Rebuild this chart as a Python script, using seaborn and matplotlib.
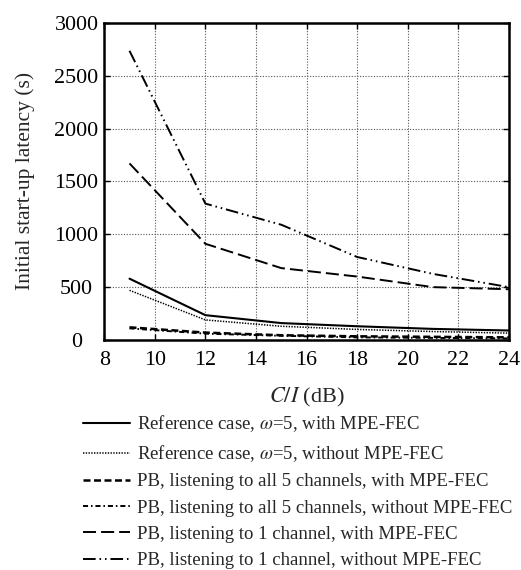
import matplotlib
matplotlib.use("Agg")
import matplotlib.pyplot as plt
import seaborn as sns
import pandas as pd

ci_db = [9, 12, 15, 18, 21, 24]
ref_fec = [580, 235, 160, 130, 105, 90]
ref_nofec = [470, 190, 130, 100, 80, 65]
pb5_fec = [120, 70, 45, 35, 30, 25]
pb5_nofec = [110, 60, 40, 25, 20, 15]
pb1_fec = [1670, 910, 680, 600, 500, 480]
pb1_nofec = [2735, 1290, 1090, 785, 625, 500]

labels = [
    r"Reference case, $\omega$=5, with MPE-FEC",
    r"Reference case, $\omega$=5, without MPE-FEC",
    "PB, listening to all 5 channels, with MPE-FEC",
    "PB, listening to all 5 channels, without MPE-FEC",
    "PB, listening to 1 channel, with MPE-FEC",
    "PB, listening to 1 channel, without MPE-FEC",
]
series = [ref_fec, ref_nofec, pb5_fec, pb5_nofec, pb1_fec, pb1_nofec]

rows = []
for lab, vals in zip(labels, series):
    for x, v in zip(ci_db, vals):
        rows.append({"C/I": x, "latency": v, "series": lab})
df = pd.DataFrame(rows)

sns.set_style("ticks")
plt.rcParams["font.family"] = ["Liberation Serif", "DejaVu Serif"]
plt.rcParams["mathtext.fontset"] = "stix"

fig = plt.figure(figsize=(5.21, 5.70), dpi=100)
ax = fig.add_axes([0.2, 0.4035, 0.777, 0.5565])

styles = [
    (None, 1.5),
    ((0.9, 0.9), 1.1),
    ((2.8, 1.4), 1.8),
    ((2.6, 1.5, 0.8, 1.5), 1.4),
    ((6.7, 2.6), 1.4),
    ((6.5, 2, 0.8, 2, 0.8, 2), 1.4),
]
for lab, (dash, lw) in zip(labels, styles):
    sub = df[df["series"] == lab]
    sns.lineplot(data=sub, x="C/I", y="latency", ax=ax, color="black",
                 linewidth=lw, label=lab, legend=False)
    l = ax.lines[-1]
    if dash is not None:
        l.set_dashes(dash)

ax.set_xlim(8, 24)
ax.set_ylim(0, 3000)
ax.set_xticks(range(8, 25, 2))
ax.set_yticks(range(0, 3001, 500))
ax.grid(True, linestyle=(0, (1, 1.5)), color="#555555", linewidth=0.8)
ax.tick_params(direction="in", top=True, right=True, length=4, width=1,
               labelsize=15.8, colors="black")
ax.tick_params(axis="x", pad=8)
ax.tick_params(axis="y", pad=20)
for lab in ax.get_yticklabels():
    lab.set_horizontalalignment("center")
for s in ax.spines.values():
    s.set_linewidth(1.8)
    s.set_color("black")
ax.set_xlabel(r"$C/I$ (dB)", fontsize=16)
ax.set_ylabel("Initial start-up latency (s)", fontsize=15.5)
ax.xaxis.set_label_coords(0.5, -0.145)
ax.yaxis.set_label_coords(-0.172, 0.5)

handles = ax.lines[:6]
fig.legend(handles, labels, loc="upper left", bbox_to_anchor=(0.159, 0.275),
           frameon=False, fontsize=13.5, handlelength=2.5, handletextpad=0.37,
           labelspacing=0.49, borderaxespad=0, borderpad=0)

fig.savefig("out.png", dpi=100)
